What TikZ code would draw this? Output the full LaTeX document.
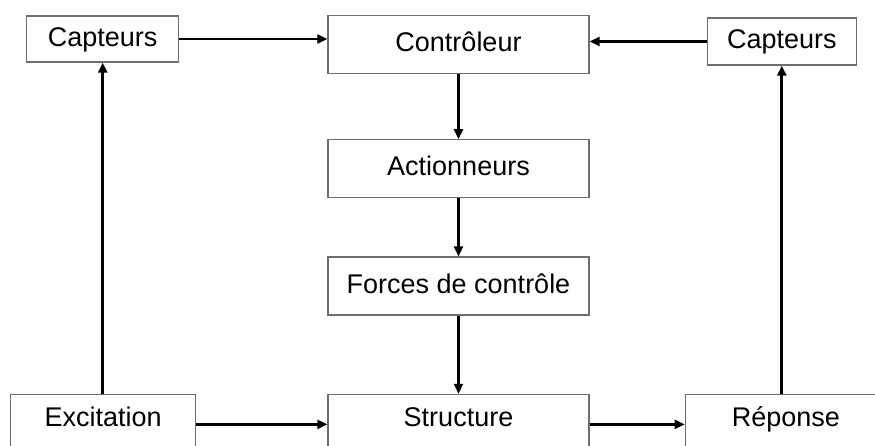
\documentclass[tikz,border=0pt]{standalone}
\usepackage{fontspec}
\setmainfont{Liberation Sans}
\usetikzlibrary{positioning,arrows.meta}

\tikzset{
    bloc/.style={draw={rgb,255:red,110;green,110;blue,110}, line width=1.3pt, fill=white,
        inner sep=0pt, minimum height=58pt, text height=19pt, text depth=5pt,
        font=\fontsize{27}{32}\selectfont},
    bas/.style={bloc, minimum height=60pt, text depth=15pt},
    fleche/.style={-{Triangle[length=10pt,width=9pt]}, line width=2.2pt, black},
    retour/.style={fleche, line width=3.2pt},
}

\begin{document}
\begin{tikzpicture}[x=1pt, y=-1pt]
    \useasboundingbox (0,0) rectangle (875,445);
    % chaine centrale
    \node [bloc, minimum width=261pt] (ctrl) at (458.5,44.5) {Contrôleur};
    \node [bloc, minimum width=261pt, below=65pt of ctrl] (act) {Actionneurs};
    \node [bloc, minimum width=261pt, below=58pt of act] (forces) {Forces de contrôle};
    \node [bas, minimum width=261pt, below=78pt of forces] (struct) {Structure};
    % capteurs
    \node [bloc, minimum width=152pt, minimum height=46pt, left=148pt of ctrl, yshift=5.5pt] (capL) {Capteurs};
    \node [bloc, minimum width=149pt, minimum height=47pt, right=117pt of ctrl, yshift=3pt] (capR) {Capteurs};
    % entree et sortie
    \node [bas, minimum width=185pt, left=131pt of struct] (excit) {Excitation};
    \node [bas, minimum width=201pt, right=95pt of struct] (rep) {Réponse};
    % liaisons
    \draw [fleche] (capL.east) -- (capL.east -| ctrl.west);
    \draw [fleche] (capR.west) -- (capR.west -| ctrl.east);
    \draw [fleche] (ctrl) -- (act);
    \draw [fleche] (act) -- (forces);
    \draw [fleche] (forces) -- (struct);
    \draw [fleche] (excit) -- (struct);
    \draw [fleche] (struct) -- (rep);
    \draw [retour] (excit.north -| capL) -- (capL.south);
    \draw [retour] (rep.north -| capR) -- (capR.south);
\end{tikzpicture}
\end{document}
